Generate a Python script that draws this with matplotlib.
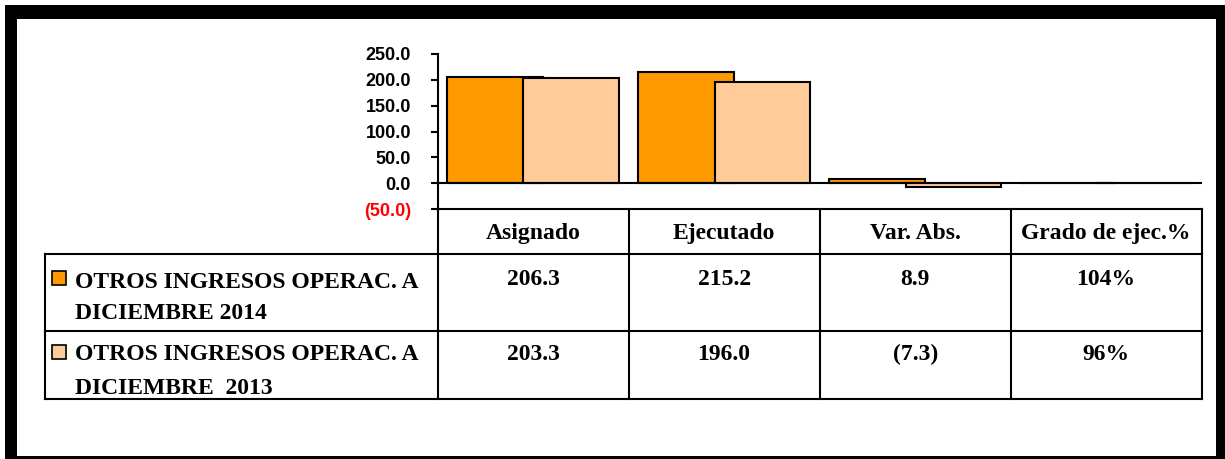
import matplotlib.pyplot as plt
from matplotlib.patches import Rectangle

# datos del grafico
categorias = ["Asignado", "Ejecutado", "Var. Abs.", "Grado de ejec.%"]
serie_2014 = [206.3, 215.2, 8.9, 1.04]
serie_2013 = [203.3, 196.0, -7.3, 0.96]
nombre_2014 = ["OTROS INGRESOS OPERAC. A", "DICIEMBRE 2014"]
nombre_2013 = ["OTROS INGRESOS OPERAC. A", "DICIEMBRE  2013"]
y_ticks = [-50, 0, 50, 100, 150, 200, 250]

naranja = "#FF9900"
durazno = "#FFCC99"


def fmt_valor(v, i):
    if i == 3:
        return f"{v * 100:.0f}%"
    if v < 0:
        return f"({abs(v):.1f})"
    return f"{v:.1f}"


W, H = 1225, 459
fig = plt.figure(figsize=(W / 100, H / 100), dpi=100)

# capa de fondo en pixeles para marco y tabla
bg = fig.add_axes([0, 0, 1, 1])
bg.set_xlim(0, W)
bg.set_ylim(H, 0)
bg.axis("off")

# marco negro grueso
for r in [(5, 5, W, 14), (5, 5, 12, H), (1216, 5, 20, H), (5, 456, W, 10)]:
    bg.add_patch(Rectangle((r[0], r[1]), r[2], r[3], color="black", lw=0))

# ejes de barras
x0, x1 = 437.5, 1201.7
ytop, ybot = 54, 209
ax = fig.add_axes([x0 / W, 1 - ybot / H, (x1 - x0) / W, (ybot - ytop) / H])
ax.patch.set_alpha(0)
n = len(categorias)
pos = [i + 0.5 for i in range(n)]
ax.bar([p - 0.2 for p in pos], serie_2014, width=0.5, color=naranja,
       edgecolor="black", linewidth=1.5, zorder=2)
ax.bar([p + 0.2 for p in pos], serie_2013, width=0.5, color=durazno,
       edgecolor="black", linewidth=1.5, zorder=3)
ax.axhline(0, color="black", linewidth=1.5, zorder=4)
ax.set_xlim(0, n)
ax.set_ylim(-50, 250)
ax.set_xticks([])
ax.set_yticks(y_ticks)
ax.set_yticklabels([fmt_valor(t, 0) for t in y_ticks],
                   fontfamily="Liberation Sans", fontweight="bold", fontsize=13)
for lab, t in zip(ax.get_yticklabels(), y_ticks):
    if t < 0:
        lab.set_color("#FF0000")
ax.tick_params(axis="y", direction="out", length=5, width=1.5, pad=14)
for s in ["top", "right", "bottom"]:
    ax.spines[s].set_visible(False)
ax.spines["left"].set_linewidth(1.5)

# tabla de datos
col_w = (x1 - x0) / n
cols = [x0 + i * col_w for i in range(n + 1)]
filas = [209, 254, 330.5, 398.5]
lw = 1.5
bg.plot([x0, x1], [filas[0], filas[0]], color="black", lw=lw)
for y in filas[1:]:
    bg.plot([45, x1], [y, y], color="black", lw=lw)
bg.plot([45, 45], [filas[1], filas[3]], color="black", lw=lw)
for x in cols:
    bg.plot([x, x], [filas[0], filas[3]], color="black", lw=lw)

fuente = dict(fontfamily="Liberation Serif", fontweight="bold", fontsize=17)
for i, c in enumerate(categorias):
    xc = (cols[i] + cols[i + 1]) / 2
    bg.text(xc, 239, c, ha="center", va="baseline", **fuente)
    bg.text(xc, 285, fmt_valor(serie_2014[i], i), ha="center", va="baseline", **fuente)
    bg.text(xc, 360, fmt_valor(serie_2013[i], i), ha="center", va="baseline", **fuente)

# leyenda dentro de la tabla
for color, nombre, ys, ysq in [(naranja, nombre_2014, (287.5, 319), 271),
                               (durazno, nombre_2013, (360.5, 394), 344.5)]:
    bg.add_patch(Rectangle((52, ysq), 14, 14, facecolor=color,
                           edgecolor="black", lw=1.2))
    for linea, y in zip(nombre, ys):
        bg.text(75, y, linea, ha="left", va="baseline", **fuente)

fig.savefig("out.png", dpi=100)
